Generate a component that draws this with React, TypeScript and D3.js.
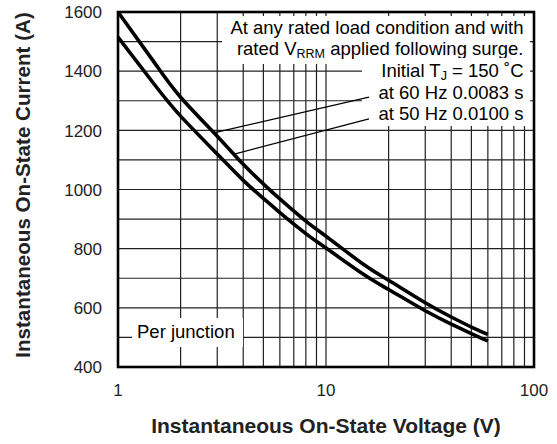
import React from 'react';
import * as d3 from 'd3';

// values
const VOLTS = [1, 1.5, 2, 3, 4, 5, 6, 8, 10, 15, 20, 30, 40, 50, 60];
const AMPS_60HZ = [1600, 1428, 1312, 1180, 1085, 1019, 968, 893, 842, 749, 693, 617, 569, 535, 510];
const AMPS_50HZ = [1515, 1354, 1248, 1120, 1031, 970, 922, 851, 802, 715, 662, 590, 545, 513, 488];

const X_TICKS = [1, 10, 100];
const X_GRID = [2, 3, 4, 5, 6, 7, 8, 9, 10, 20, 30, 40, 50, 60, 70, 80, 90];
const Y_TICKS = [400, 600, 800, 1000, 1200, 1400, 1600];
const Y_GRID = [500, 600, 700, 800, 900, 1000, 1100, 1200, 1300, 1400, 1500];

// where the leader lines touch the curves
const LEADER_60HZ = [2.92, 1192];
const LEADER_50HZ = [3.55, 1118];

const NOTE_LINES = [
  'At any rated load condition and with',
  'rated V|RRM| applied following surge.',
  'Initial T|J| = 150 ˚C',
  'at 60 Hz 0.0083 s',
  'at 50 Hz 0.0100 s',
];

const W = 557;
const H = 444;
const margin = { top: 12, right: 23, bottom: 77, left: 118 };
const FONT = '"Liberation Sans", Arial, Helvetica, sans-serif';

const App = () => {
  const innerW = W - margin.left - margin.right;
  const innerH = H - margin.top - margin.bottom;

  const x = d3.scaleLog().domain([1, 100]).range([margin.left, margin.left + innerW]);
  const y = d3.scaleLinear().domain([400, 1600]).range([margin.top + innerH, margin.top]);

  const line = d3
    .line<number>()
    .x((_, i) => x(VOLTS[i]))
    .y((d) => y(d))
    .curve(d3.curveNatural);

  const right = x(100);
  const noteRight = right - 10.5;
  const noteBase = (i: number) => 33.5 + i * 21.7;

  // text with a subscript part marked by |..|
  const renderNote = (s: string) => {
    const parts = s.split('|');
    return parts.map((p, i) =>
      i % 2 === 1 ? (
        <tspan key={i} fontSize={12.5} dy={3}>{p}</tspan>
      ) : (
        <tspan key={i} dy={i > 0 ? -3 : 0}>{p}</tspan>
      )
    );
  };

  const leaderStartX = 369;

  return (
    <div>
      <style>{'body{margin:0}'}</style>
      <svg width={W} height={H} style={{ display: 'block', background: '#fff' }} fontFamily={FONT}>
        {/* grid */}
        <g stroke="#222" strokeWidth={1.2}>
          {X_GRID.map((v) => (
            <line key={'vx' + v} x1={x(v)} x2={x(v)} y1={y(1600)} y2={y(400)} />
          ))}
          {Y_GRID.map((v) => (
            <line key={'hy' + v} x1={x(1)} x2={x(100)} y1={y(v)} y2={y(v)} />
          ))}
        </g>

        {/* white panels behind the notes */}
        <rect x={222} y={16} width={right - 4 - 222} height={48} fill="#fff" />
        <rect x={362} y={58} width={right - 4 - 362} height={68} fill="#fff" />
        <text x={noteRight} y={noteBase(0)} fontSize={18.5} textAnchor="end" fill="#000">
          {renderNote(NOTE_LINES[0])}
        </text>
        <text x={noteRight} y={noteBase(1)} fontSize={18.5} textAnchor="end" fill="#000">
          {renderNote(NOTE_LINES[1])}
        </text>
        {/* second panel clips the descenders of the line above, as in the original */}
        <rect x={368} y={58} width={right - 4 - 368} height={8} fill="#fff" />
        {NOTE_LINES.slice(2).map((s, i) => (
          <text key={s} x={noteRight} y={noteBase(i + 2)} fontSize={18.5} textAnchor="end" fill="#000">
            {renderNote(s)}
          </text>
        ))}

        {/* leaders */}
        <g stroke="#000" strokeWidth={1.2}>
          <line x1={leaderStartX} y1={noteBase(3) - 1.5} x2={x(LEADER_60HZ[0])} y2={y(LEADER_60HZ[1])} />
          <line x1={leaderStartX} y1={noteBase(4) - 1.5} x2={x(LEADER_50HZ[0])} y2={y(LEADER_50HZ[1])} />
        </g>

        {/* Per junction label */}
        <rect x={132} y={318} width={111} height={29} fill="#fff" />
        <text x={137} y={338} fontSize={18.5} fill="#000">Per junction</text>

        {/* curves */}
        <path d={line(AMPS_60HZ) || ''} fill="none" stroke="#000" strokeWidth={3.6} />
        <path d={line(AMPS_50HZ) || ''} fill="none" stroke="#000" strokeWidth={3.6} />

        {/* frame */}
        <rect x={x(1)} y={y(1600)} width={innerW} height={innerH} fill="none" stroke="#000" strokeWidth={2.6} />

        {/* y ticks */}
        {Y_TICKS.map((v) => (
          <text key={'yt' + v} x={102} y={y(v) + 6.2} fontSize={17} textAnchor="end" fill="#222">
            {v}
          </text>
        ))}
        {/* x ticks */}
        {X_TICKS.map((v) => (
          <text key={'xt' + v} x={x(v)} y={396} fontSize={17} textAnchor="middle" fill="#222">
            {v}
          </text>
        ))}

        {/* axis titles */}
        <text
          x={x(1) + innerW / 2}
          y={432.5}
          fontSize={21}
          fontWeight="bold"
          textAnchor="middle"
          fill="#222"
        >
          Instantaneous On-State Voltage (V)
        </text>
        <text
          transform={`translate(30,185) rotate(-90)`}
          fontSize={20.6}
          fontWeight="bold"
          textAnchor="middle"
          fill="#222"
        >
          Instantaneous On-State Current (A)
        </text>
      </svg>
    </div>
  );
};

export default App;
